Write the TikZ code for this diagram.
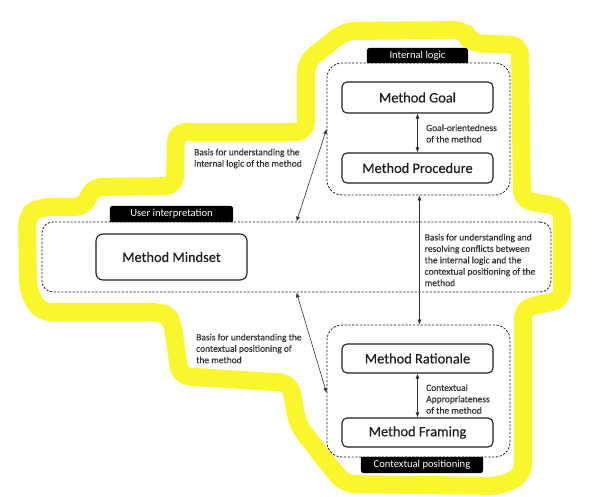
\documentclass[tikz,border=0pt]{standalone}
\usepackage{fontspec}
\setmainfont{Carlito}
\usetikzlibrary{arrows.meta,backgrounds}
\definecolor{hl}{RGB}{250,246,45}
\definecolor{ink}{RGB}{30,30,30}
\definecolor{lbl}{RGB}{50,50,50}
\tikzset{
  box/.style={draw=ink, line width=1.1pt, rounded corners=5pt, minimum width=151pt, inner sep=0pt, font=\fontsize{14.4}{17}\selectfont\addfontfeature{FakeBold=0.3}, text=ink},
  cont/.style={draw=ink, line width=0.8pt, dash pattern=on 2.2pt off 1.6pt, rounded corners=15pt, inner sep=0pt},
  tab/.style={inner sep=0pt, text=white, font=\fontsize{10.6}{12}\selectfont},
  lab/.style={anchor=west, align=left, inner sep=0pt, text=lbl, font=\fontsize{9.5}{11.4}\selectfont\addfontfeature{FakeBold=0.3}},
  link/.style={draw=lbl, line width=0.6pt, {Latex[length=5pt,width=4pt]}-{Latex[length=5pt,width=4pt]}}
}
\begin{document}
\begin{tikzpicture}[x=1pt,y=-1pt]
\useasboundingbox (0,0) rectangle (597,497);
% highlighter outline
\draw[hl, line width=18pt, rounded corners=10pt, line join=round]
  (28,290) -- (27,215) -- (40,207) -- (85,207) -- (92,187) -- (175,186)
  -- (176,132) -- (306,132) -- (306,62) -- (345,31) -- (465,30) -- (470,43)
  -- (520,45) -- (522,200) -- (562,207) -- (562,300) -- (523,308)
  -- (523,475) -- (500,486) -- (345,484) -- (333,470) -- (298,425)
  -- (290,383) -- (180,376) -- (172,320) -- (163,312) -- (40,312) -- cycle;
% containers
\node[cont, minimum width=183pt, minimum height=132pt] (il) at (418.5,129) {};
\node[cont, minimum width=509pt, minimum height=70pt, rounded corners=11pt] (ui) at (296.5,257) {};
\node[cont, minimum width=183pt, minimum height=132pt] (cp) at (418.5,391) {};
% tabs
\node[tab, minimum width=101pt, minimum height=15pt] (tIL) at (417.5,55.5) {Internal logic};
\node[tab, minimum width=123pt, minimum height=16pt] (tUI) at (171.5,214) {User interpretation};
\node[tab, minimum width=122pt, minimum height=16pt] (tCP) at (422,465) {Contextual positioning};
\begin{scope}[on background layer]
\fill[black] (tIL.south west) [rounded corners=3pt] -- (tIL.north west) -- (tIL.north east) [sharp corners] -- (tIL.south east) -- cycle;
\fill[black] (tUI.south west) [rounded corners=3pt] -- (tUI.north west) -- (tUI.north east) [sharp corners] -- (tUI.south east) -- cycle;
\fill[black] (tCP.north west) [rounded corners=3pt] -- (tCP.south west) -- (tCP.south east) [sharp corners] -- (tCP.north east) -- cycle;
\end{scope}
% boxes
\node[box, minimum height=31pt] (goal) at (417.5,97.5) {Method Goal};
\node[box, minimum height=30pt] (proc) at (417.5,168) {Method Procedure};
\node[box, minimum height=46pt, rounded corners=7pt] (mind) at (171.5,257) {Method Mindset};
\node[box, minimum height=29pt] (rat) at (417.5,358.5) {Method Rationale};
\node[box, minimum height=29pt] (fram) at (417.5,432.5) {Method Framing};
% connectors
\draw[link] (goal.south) -- (proc.north);
\draw[link] (rat.south) -- (fram.north);
\draw[link] ([xshift=1pt]il.south) -- ([xshift=1pt]cp.north);
\draw[link] (ui.north) -- (il.west);
\draw[link] (ui.south) -- ([yshift=-2pt]cp.west);
% labels
\node[lab] (l1) at (426,133.5) {Goal-orientedness\\of the method};
\node[lab] (l2) at (426,399) {Contextual\\Appropriateness\\of the method};
\node[lab] (l3) at (424.5,260) {Basis for understanding and\\resolving conflicts between\\the internal logic and the\\contextual positioning of the\\method};
\node[lab] (l4) at (194,158.5) {Basis for understanding the\\internal logic of the method};
\node[lab] (l5) at (196,348.5) {Basis for understanding the\\contextual positioning of\\the method};
\end{tikzpicture}
\end{document}
